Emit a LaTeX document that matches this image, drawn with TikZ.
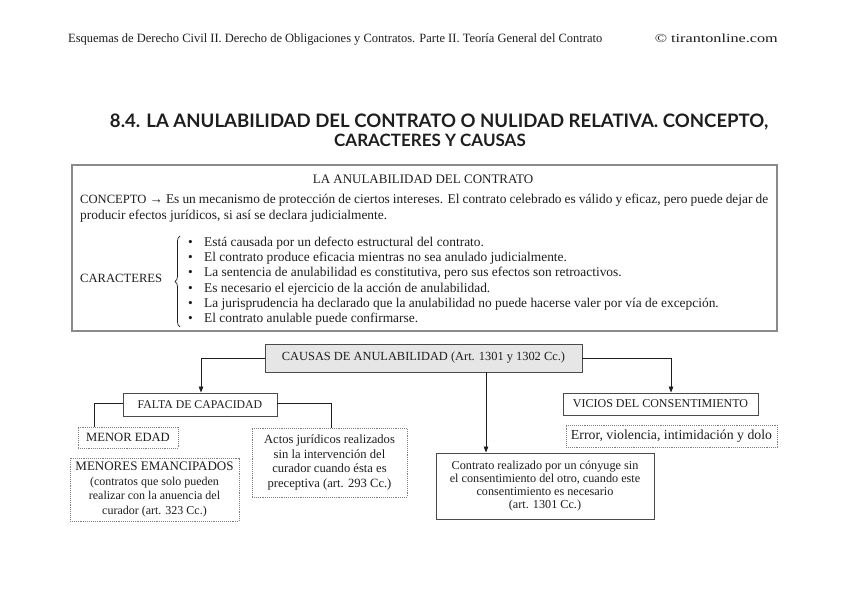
\documentclass[tikz,border=0pt]{standalone}
\usepackage{fontspec}
\setmainfont{Liberation Serif}
\newfontfamily\titlefont{Lato}
\usetikzlibrary{arrows.meta,decorations.pathreplacing}
\definecolor{ink}{HTML}{1E1E1E}
\definecolor{boxgray}{HTML}{4A4A4A}
\definecolor{framegray}{HTML}{8A8A8A}
\definecolor{causasfill}{HTML}{E6E6E6}
\tikzset{
  txt/.style={inner sep=0pt, text=ink, font=\fontsize{13.4}{15}\selectfont},
  box/.style={draw=boxgray, line width=0.9pt, fill=white, inner sep=0pt, align=center, text=ink, font=\fontsize{11.8}{14.6}\selectfont},
  dbox/.style={box, draw=gray, densely dotted, line width=1pt},
  conn/.style={draw=ink, line width=0.8pt},
  arr/.style={conn, -{Triangle[length=6pt,width=4.5pt]}}
}
\begin{document}
\begin{tikzpicture}[x=1pt,y=-1pt]
\useasboundingbox[fill=white] (0,0) rectangle (848,601);
% header
\node[txt, anchor=base west, font=\fontsize{11}{13}\selectfont] (hdr) at (68,43) {\resizebox{534pt}{8.8pt}{Esquemas de Derecho Civil II. Derecho de Obligaciones y Contratos. Parte II. Teoría General del Contrato}};
\node[txt, anchor=base east, font=\fontsize{11}{13}\selectfont] (copy) at (778,43) {\resizebox{123pt}{8.5pt}{© tirantonline.com}};
% title
\node[txt, anchor=base] (t1) at (439,128) {\resizebox{658pt}{!}{\titlefont\bfseries\fontsize{17}{20}\selectfont 8.4. LA ANULABILIDAD DEL CONTRATO O NULIDAD RELATIVA. CONCEPTO,}};
\node[txt, anchor=base] (t2) at (430,147) {\titlefont\bfseries\fontsize{17}{20}\selectfont CARACTERES Y CAUSAS};
% main box
\node[draw=framegray, line width=1.6pt, minimum width=705pt, minimum height=166pt, inner sep=0pt] (main) at (424.5,248) {};
\node[txt, anchor=base, font=\fontsize{13}{14}\selectfont] (mtitle) at (423,184) {LA ANULABILIDAD DEL CONTRATO};
\node[txt, anchor=base west] (con1) at (80,204) {\makebox[688pt][s]{\fontsize{12.6}{15}\selectfont CONCEPTO\fontsize{13.4}{15}\selectfont{} → Es un mecanismo de protección de ciertos intereses. El contrato celebrado es válido y eficaz, pero puede dejar de}};
\node[txt, anchor=base west] (con2) at (80,220) {producir efectos jurídicos, si así se declara judicialmente.};
\node[txt, anchor=base west, font=\fontsize{12.6}{15}\selectfont] (car) at (80,283) {CARACTERES};
\draw[ink, line width=0.7pt, decorate, decoration={brace, amplitude=5pt}] (180,327) -- (180,236);
\foreach \n/\yy/\tx in {
  b1/247/{Está causada por un defecto estructural del contrato.},
  b2/262/{El contrato produce eficacia mientras no sea anulado judicialmente.},
  b3/277/{La sentencia de anulabilidad es constitutiva, pero sus efectos son retroactivos.},
  b4/293/{Es necesario el ejercicio de la acción de anulabilidad.},
  b5/308/{La jurisprudencia ha declarado que la anulabilidad no puede hacerse valer por vía de excepción.},
  b6/323/{El contrato anulable puede confirmarse.}}
  {\node[txt, anchor=base west] (\n) at (188,\yy) {\makebox[16pt][l]{•}\tx};}
% causas
\node[box, fill=causasfill, minimum width=317pt, minimum height=28pt, font=\fontsize{12.4}{14}\selectfont] (causas) at (423.5,358) {CAUSAS DE ANULABILIDAD (Art. 1301 y 1302 Cc.)};
\node[box, minimum width=154pt, minimum height=23pt] (falta) at (200,404.5) {FALTA DE CAPACIDAD};
\node[box, minimum width=195pt, minimum height=22pt, font=\fontsize{12}{14}\selectfont] (vicios) at (660.5,404) {VICIOS DEL CONSENTIMIENTO};
\node[dbox, minimum width=100pt, minimum height=21pt, font=\fontsize{12.6}{14}\selectfont] (menor) at (128,437.5) {MENOR EDAD};
\node[dbox, minimum width=169pt, minimum height=63pt, font=\fontsize{12}{14.6}\selectfont] (emanc) at (154.5,489.5) {{\fontsize{13}{14.6}\selectfont MENORES EMANCIPADOS}\\(contratos que solo pueden\\realizar con la anuencia del\\curador (art. 323 Cc.)};
\node[dbox, minimum width=155pt, minimum height=69pt, font=\fontsize{12.6}{14.8}\selectfont] (actos) at (329.5,462.5) {Actos jurídicos realizados\\sin la intervención del\\curador cuando ésta es\\preceptiva (art. 293 Cc.)};
\node[dbox, minimum width=211pt, minimum height=22pt, font=\fontsize{13.8}{15}\selectfont] (error) at (671.5,436) {Error, violencia, intimidación y dolo};
\node[box, minimum width=218pt, minimum height=66pt, font=\fontsize{12.2}{13.2}\selectfont] (contrato) at (545,486) {Contrato realizado por un cónyuge sin\\el consentimiento del otro, cuando este\\consentimiento es necesario\\(art. 1301 Cc.)};
% connectors
\draw[arr] (causas.west) -| ([xshift=1pt]falta.north);
\draw[arr] (causas.east) -| ([xshift=10.5pt]vicios.north);
\draw[arr] ([xshift=62.5pt]causas.south) -- ([xshift=-59pt]contrato.north);
\draw[conn] ([yshift=1.5pt]falta.west) -| ([xshift=-34pt]menor.north);
\draw[conn] ([yshift=1.5pt]falta.east) -| ([xshift=1.5pt]actos.north);
\end{tikzpicture}
\end{document}
